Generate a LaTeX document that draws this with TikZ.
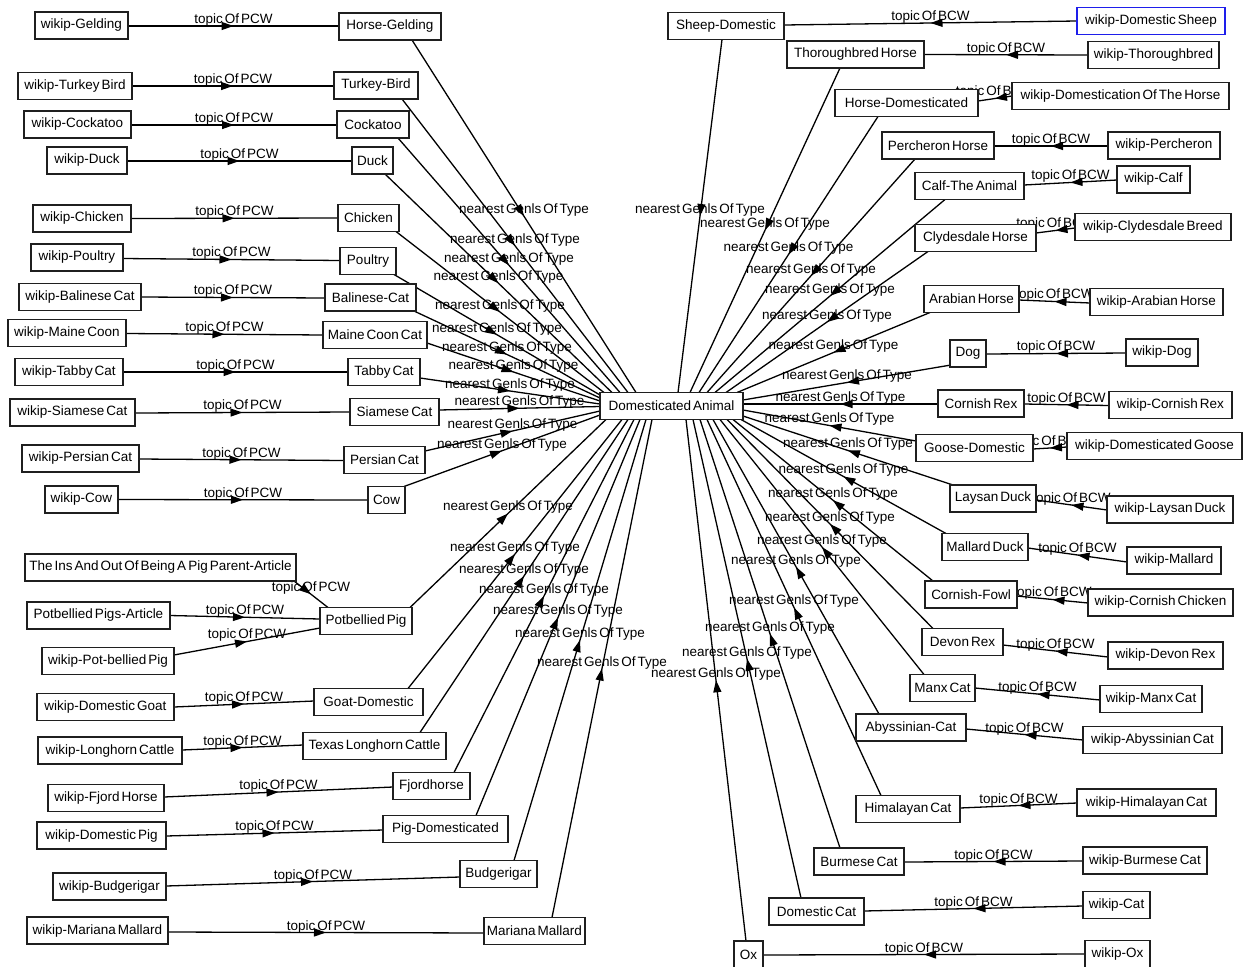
\documentclass[tikz,border=0pt]{standalone}
\usepackage{fontspec}
\setmainfont{Liberation Sans}
\usetikzlibrary{arrows.meta,decorations.markings}
\pgfdeclarelayer{bg}
\pgfdeclarelayer{edges}
\pgfsetlayers{bg,edges,main}
\newcommand{\dafont}{\fontsize{13.5}{16}\selectfont\spaceskip=2pt plus 1pt\relax}
\newcommand{\gnl}[3]{\draw[gedge] ([shift={(#2)}]#1.center) -- node[elab]{nearest Genls Of Type} ([shift={(#3)}]da.center);}
\newcommand{\tpc}[5]{\draw[gedge] ([shift={(#2)}]#1.center) -- node[elab]{topic Of #5} ([shift={(#4)}]#3.center);}
\tikzset{
  box/.style={draw=black!88, line width=1.5pt, fill=white, minimum height=27pt, inner sep=2pt, font=\dafont},
  selbox/.style={box, draw={rgb,255:red,30;green,30;blue,235}, line width=1.3pt},
  gedge/.style={draw=black, line width=1.3pt, postaction={decorate},
    decoration={markings, mark=at position 0.5 with {\arrow{Triangle[length=12pt,width=8pt]}}}},
  elab/.style={font=\dafont, inner sep=0pt, yshift=6pt}
}
\begin{document}
\begin{tikzpicture}[x=1pt,y=-1pt]
\useasboundingbox (0,0) rectangle (1243,967);
\begin{pgfonlayer}{bg}
\fill[white] (0,0) rectangle (1243,967);
\end{pgfonlayer}
% ---------- left: wikip nodes ----------
\node[box, minimum width=93pt]  (wg)  at (81.5,25.5)  {wikip-Gelding};
\node[box, minimum width=114pt] (wtb) at (75,86)      {wikip-Turkey Bird};
\node[box, minimum width=107pt] (wco) at (77.5,124.5) {wikip-Cockatoo};
\node[box, minimum width=80pt]  (wdu) at (87,160.5)   {wikip-Duck};
\node[box, minimum width=98pt]  (wch) at (82,218.5)   {wikip-Chicken};
\node[box, minimum width=92pt]  (wpo) at (77,257.5)   {wikip-Poultry};
\node[box, minimum width=122pt] (wba) at (80,297)     {wikip-Balinese Cat};
\node[box, minimum width=118pt] (wmc) at (67,333)     {wikip-Maine Coon};
\node[box, minimum width=108pt] (wta) at (69,372)     {wikip-Tabby Cat};
\node[box, minimum width=125pt] (wsi) at (72.5,412.5) {wikip-Siamese Cat};
\node[box, minimum width=117pt] (wpe) at (80.5,458.5) {wikip-Persian Cat};
\node[box, minimum width=73pt]  (wcw) at (81.5,499.5) {wikip-Cow};
\node[box, minimum width=271pt] (tio) at (160.5,567.5) {The Ins And Out Of Being A Pig Parent-Article};
\node[box, minimum width=143pt] (ppa) at (98.5,615.5) {Potbellied Pigs-Article};
\node[box, minimum width=132pt] (wpp) at (108,661)    {wikip-Pot-bellied Pig};
\node[box, minimum width=137pt] (wgo) at (105.5,707)  {wikip-Domestic Goat};
\node[box, minimum width=144pt] (wlc) at (110,750.5)  {wikip-Longhorn Cattle};
\node[box, minimum width=116pt] (wfh) at (106,798)    {wikip-Fjord Horse};
\node[box, minimum width=129pt] (wdp) at (101.5,835.5) {wikip-Domestic Pig};
\node[box, minimum width=113pt] (wbu) at (109.5,886.5) {wikip-Budgerigar};
\node[box, minimum width=141pt] (wmm) at (97.5,930.5) {wikip-Mariana Mallard};
% ---------- left: concepts ----------
\node[box, minimum width=102pt] (hg)  at (390,26.5)   {Horse-Gelding};
\node[box, minimum width=84pt]  (tb)  at (376,85.5)   {Turkey-Bird};
\node[box, minimum width=72pt]  (ck)  at (373,124.5)  {Cockatoo};
\node[box, minimum width=41pt]  (du)  at (372.5,160.5) {Duck};
\node[box, minimum width=61pt]  (chk) at (368.5,218)  {Chicken};
\node[box, minimum width=56pt]  (pou) at (368,261)    {Poultry};
\node[box, minimum width=91pt]  (bal) at (370.5,297.5) {Balinese-Cat};
\node[box, minimum width=104pt] (mcc) at (375,335)    {Maine Coon Cat};
\node[box, minimum width=72pt]  (tab) at (384,372)    {Tabby Cat};
\node[box, minimum width=89pt]  (sia) at (394.5,412)  {Siamese Cat};
\node[box, minimum width=81pt]  (per) at (384.5,460)  {Persian Cat};
\node[box, minimum width=37pt]  (cow) at (386.5,500)  {Cow};
\node[box, minimum width=92pt]  (pp)  at (366,621)    {Potbellied Pig};
\node[box, minimum width=109pt] (gd)  at (368.5,702)  {Goat-Domestic};
\node[box, minimum width=143pt] (tlc) at (374.5,746)  {Texas Longhorn Cattle};
\node[box, minimum width=77pt]  (fj)  at (431.5,786)  {Fjordhorse};
\node[box, minimum width=125pt] (pd)  at (445.5,829)  {Pig-Domesticated};
\node[box, minimum width=77pt]  (bu)  at (498.5,874)  {Budgerigar};
\node[box, minimum width=101pt] (mm)  at (534.5,931)  {Mariana Mallard};
% ---------- centre ----------
\node[box, minimum width=143pt] (da)  at (671.5,406)  {Domesticated Animal};
% ---------- right: concepts ----------
\node[box, minimum width=116pt] (sd)  at (726,26)     {Sheep-Domestic};
\node[box, minimum width=137pt] (thb) at (855.5,54.5) {Thoroughbred Horse};
\node[box, minimum width=143pt] (hd)  at (906.5,103)  {Horse-Domesticated};
\node[box, minimum width=112pt] (pch) at (938,145.5)  {Percheron Horse};
\node[box, minimum width=109pt] (cta) at (969.5,186)  {Calf-The Animal};
\node[box, minimum width=121pt] (cly) at (975.5,238)  {Clydesdale Horse};
\node[box, minimum width=95pt]  (arh) at (971.5,299)  {Arabian Horse};
\node[box, minimum width=36pt]  (dog) at (968,353.5)  {Dog};
\node[box, minimum width=86pt]  (crx) at (981,403.5)  {Cornish Rex};
\node[box, minimum width=117pt] (gsd) at (974.5,448)  {Goose-Domestic};
\node[box, minimum width=86pt]  (lyd) at (993,498.5)  {Laysan Duck};
\node[box, minimum width=86pt]  (mld) at (985,547)    {Mallard Duck};
\node[box, minimum width=92pt]  (cfw) at (971,594.5)  {Cornish-Fowl};
\node[box, minimum width=81pt]  (dvr) at (962.5,642)  {Devon Rex};
\node[box, minimum width=65pt]  (mnx) at (942.5,688)  {Manx Cat};
\node[box, minimum width=110pt] (aby) at (911,727.5)  {Abyssinian-Cat};
\node[box, minimum width=104pt] (him) at (908,809)    {Himalayan Cat};
\node[box, minimum width=90pt]  (bur) at (859,861.5)  {Burmese Cat};
\node[box, minimum width=95pt]  (dct) at (816.5,911.5) {Domestic Cat};
\node[box, minimum width=29pt]  (ox)  at (748.5,954.5) {Ox};
% ---------- right: wikip nodes ----------
\node[selbox, minimum width=148pt] (wds) at (1151,21) {wikip-Domestic Sheep};
\node[box, minimum width=131pt] (wth) at (1153.5,55)  {wikip-Thoroughbred};
\node[box, minimum width=217pt] (wdh) at (1120.5,96)  {wikip-Domestication Of The Horse};
\node[box, minimum width=112pt] (wpc) at (1164,145.5) {wikip-Percheron};
\node[box, minimum width=73pt]  (wcf) at (1153.5,179.5) {wikip-Calf};
\node[box, minimum width=156pt] (wcb) at (1153,227)   {wikip-Clydesdale Breed};
\node[box, minimum width=133pt] (wah) at (1156.5,302) {wikip-Arabian Horse};
\node[box, minimum width=72pt]  (wdg) at (1162,352.5) {wikip-Dog};
\node[box, minimum width=123pt] (wcr) at (1170.5,405) {wikip-Cornish Rex};
\node[box, minimum width=175pt] (wdgo) at (1154.5,446) {wikip-Domesticated Goose};
\node[box, minimum width=126pt] (wly) at (1170,509.5) {wikip-Laysan Duck};
\node[box, minimum width=94pt]  (wml) at (1174,560.5) {wikip-Mallard};
\node[box, minimum width=145pt] (wcc) at (1160.5,602.5) {wikip-Cornish Chicken};
\node[box, minimum width=115pt] (wdr) at (1165.5,655.5) {wikip-Devon Rex};
\node[box, minimum width=102pt] (wmx) at (1151,699)   {wikip-Manx Cat};
\node[box, minimum width=139pt] (wab) at (1152.5,740) {wikip-Abyssinian Cat};
\node[box, minimum width=139pt] (whi) at (1146.5,802.5) {wikip-Himalayan Cat};
\node[box, minimum width=124pt] (wbr) at (1145,860.5) {wikip-Burmese Cat};
\node[box, minimum width=67pt]  (wct) at (1116.5,905) {wikip-Cat};
\node[box, minimum width=65pt]  (wox) at (1117.5,954) {wikip-Ox};
% ---------- edges ----------
\begin{pgfonlayer}{edges}
% nearestGenlsOfType, left
\gnl{hg}{22,13.5}{-35.5,-13.5}
\gnl{tb}{26,13.5}{-43.5,-13.5}
\gnl{ck}{25,13.5}{-51.5,-13.5}
\gnl{du}{12.5,13.5}{-59.5,-13.5}
\gnl{chk}{27.5,13.5}{-67.5,-13.5}
\gnl{pou}{26,13.5}{-71.5,-11}
\gnl{bal}{43.5,13.5}{-71.5,-8}
\gnl{mcc}{52,8}{-71.5,-5}
\gnl{tab}{36,6}{-71.5,-2}
\gnl{sia}{44.5,-2}{-71.5,0.5}
\gnl{per}{40.5,-9}{-71.5,5}
\gnl{cow}{17.5,-13.5}{-71.5,9}
\gnl{pp}{44,-13.5}{-65.5,13.5}
\gnl{gd}{39.5,-13.5}{-49.5,13.5}
\gnl{tlc}{45.5,-13.5}{-43.5,13.5}
\gnl{fj}{22.5,-13.5}{-37.5,13.5}
\gnl{pd}{30.5,-13.5}{-31.5,13.5}
\gnl{bu}{15.5,-13.5}{-25.5,13.5}
\gnl{mm}{17.5,-13.5}{-19.5,13.5}
% nearestGenlsOfType, right
\gnl{sd}{-4,13.5}{6.5,-13.5}
\gnl{thb}{-15.5,13.5}{18.5,-13.5}
\gnl{hd}{-28.5,13.5}{27.5,-13.5}
\gnl{pch}{-23,13.5}{35.5,-13.5}
\gnl{cta}{-24.5,13.5}{43.5,-13.5}
\gnl{cly}{-47.5,13.5}{54.5,-13.5}
\gnl{arh}{-41.5,13.5}{65.5,-13.5}
\gnl{dog}{-17,11.5}{71.5,-6}
\gnl{crx}{-43,0.5}{71.5,-2}
\gnl{gsd}{-58.5,-7}{71.5,4}
\gnl{lyd}{-40,-13.5}{71.5,10}
\gnl{mld}{-39,-13.5}{69.5,13.5}
\gnl{cfw}{-38,-13.5}{61.5,13.5}
\gnl{dvr}{-29.5,-13.5}{55.5,13.5}
\gnl{mnx}{-18.5,-13.5}{48.5,13.5}
\gnl{aby}{-32,-13.5}{41.5,13.5}
\gnl{him}{-27,-13.5}{35.5,13.5}
\gnl{bur}{-19,-13.5}{28.5,13.5}
\gnl{dct}{-15.5,-13.5}{21.5,13.5}
\gnl{ox}{-2.5,-13.5}{14.5,13.5}
% topicOfPCW
\tpc{wg}{46.5,0.5}{hg}{-51,-0.5}{PCW}
\tpc{wtb}{57,0}{tb}{-42,0.5}{PCW}
\tpc{wco}{53.5,0.5}{ck}{-36,0.5}{PCW}
\tpc{wdu}{40,0.5}{du}{-20.5,0.5}{PCW}
\tpc{wch}{49,0}{chk}{-30.5,0}{PCW}
\tpc{wpo}{46,1}{pou}{-28,-0.5}{PCW}
\tpc{wba}{61,0}{bal}{-45.5,0.5}{PCW}
\tpc{wmc}{59,0.5}{mcc}{-52,0}{PCW}
\tpc{wta}{54,0}{tab}{-36,0}{PCW}
\tpc{wsi}{62.5,0.5}{sia}{-44.5,0}{PCW}
\tpc{wpe}{58.5,0.5}{per}{-40.5,0.5}{PCW}
\tpc{wcw}{36.5,0}{cow}{-18.5,0}{PCW}
\tpc{tio}{133.5,13.5}{pp}{-38,-13.5}{PCW}
\tpc{ppa}{71.5,0}{pp}{-46,-2}{PCW}
\tpc{wpp}{66,-6}{pp}{-46,7}{PCW}
\tpc{wgo}{68.5,0}{gd}{-54.5,-1}{PCW}
\tpc{wlc}{72,-0.5}{tlc}{-71.5,-1}{PCW}
\tpc{wfh}{58,-1}{fj}{-38.5,1}{PCW}
\tpc{wdp}{64.5,0.5}{pd}{-62.5,1}{PCW}
\tpc{wbu}{56.5,-0.5}{bu}{-38.5,3}{PCW}
\tpc{wmm}{70.5,1.5}{mm}{-50.5,2}{PCW}
% topicOfBCW
\tpc{wds}{-74,0}{sd}{58,-1}{BCW}
\tpc{wth}{-65.5,0}{thb}{68.5,0}{BCW}
\tpc{wdh}{-108.5,0}{hd}{71.5,-2}{BCW}
\tpc{wpc}{-56,0.5}{pch}{56,0.5}{BCW}
\tpc{wcf}{-36.5,0.5}{cta}{54.5,-1}{BCW}
\tpc{wcb}{-78,1}{cly}{60.5,-5}{BCW}
\tpc{wah}{-66.5,1}{arh}{47.5,1}{BCW}
\tpc{wdg}{-36,0.5}{dog}{18,0.5}{BCW}
\tpc{wcr}{-61.5,0.5}{crx}{43,0.5}{BCW}
\tpc{wdgo}{-87.5,1}{gsd}{58.5,1}{BCW}
\tpc{wly}{-63,0.5}{lyd}{43,1.5}{BCW}
\tpc{wml}{-47,1.5}{mld}{43,1}{BCW}
\tpc{wcc}{-72.5,0.5}{cfw}{46,1.5}{BCW}
\tpc{wdr}{-57.5,1.5}{dvr}{40.5,3}{BCW}
\tpc{wmx}{-51,1}{mnx}{32.5,0}{BCW}
\tpc{wab}{-69.5,0}{aby}{55,1.5}{BCW}
\tpc{whi}{-69.5,0.5}{him}{52,-1}{BCW}
\tpc{wbr}{-62,0.5}{bur}{45,0.5}{BCW}
\tpc{wct}{-33.5,1}{dct}{47.5,-0.5}{BCW}
\tpc{wox}{-32.5,0}{ox}{14.5,0.5}{BCW}
\end{pgfonlayer}
\end{tikzpicture}
\end{document}
